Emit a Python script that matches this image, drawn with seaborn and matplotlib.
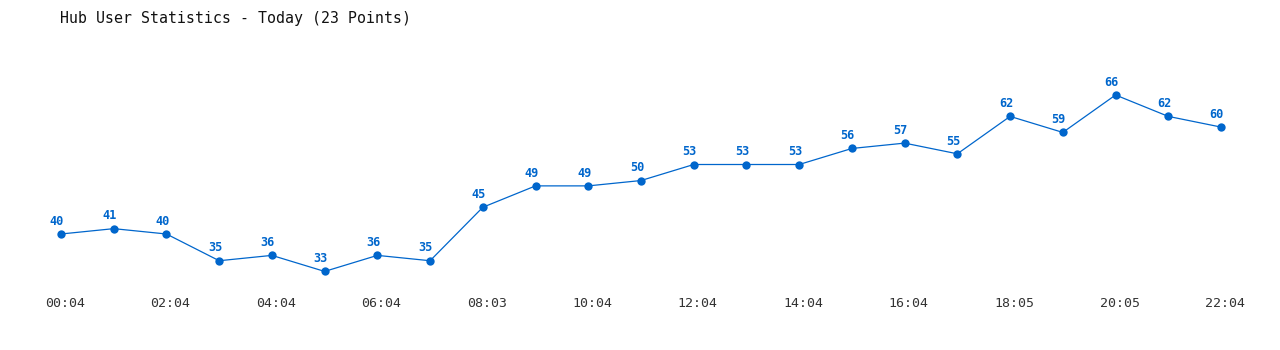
import matplotlib
matplotlib.use("Agg")
import matplotlib.pyplot as plt
import matplotlib.transforms as mtransforms
import seaborn as sns
import pandas as pd
import numpy as np

times = ["00:04", "01:04", "02:04", "03:04", "04:04", "05:04", "06:04", "07:04",
         "08:03", "09:04", "10:04", "11:04", "12:04", "13:04", "14:04", "15:04",
         "16:04", "17:04", "18:05", "19:04", "20:05", "21:04", "22:04"]
users = [40, 41, 40, 35, 36, 33, 36, 35, 45, 49, 49, 50, 53, 53, 53, 56, 57,
         55, 62, 59, 66, 62, 60]
title = "Hub User Statistics - Today (23 Points)"

df = pd.DataFrame({"idx": np.arange(len(users)), "users": users})

sns.set_style("white")
plt.rcParams['font.family'] = ['DejaVu Sans Mono', 'DejaVu Sans']

color = "#0066cc"
fig = plt.figure(figsize=(12.8, 3.5), dpi=100)
W, H = 1280, 350
ax = fig.add_axes([0, 60 / H, 1, 290 / H])

sns.lineplot(data=df, x="idx", y="users", ax=ax, color=color, linewidth=0.9,
             marker="o", markersize=6, markeredgewidth=0, markerfacecolor=color)

for i, v in enumerate(users):
    ax.annotate(str(v), (i, v), xytext=(-3, 4.5), textcoords="offset points",
                ha="center", va="bottom", fontsize=8.6, fontweight="bold",
                color=color)

# pixel mapping: x=0 -> 61px, x=22 -> 1221px ; y=40 -> 234px from top, 66 -> 95px
ppx = (1221 - 61) / 22
ax.set_xlim(-61 / ppx, 22 + (W - 1221) / ppx)
ppy = (234 - 95) / 26
bottom_px = 290
ax.set_ylim(40 - (bottom_px - 234) / ppy, 40 + 234 / ppy)

ax.set_xticks(df["idx"][::2])
ax.set_xticklabels(times[::2], fontsize=9.5, color="#333333")
ax.tick_params(axis="x", length=0, pad=5)
shift = mtransforms.ScaledTranslation(4 / 100, 0, fig.dpi_scale_trans)
for lab in ax.get_xticklabels():
    lab.set_transform(lab.get_transform() + shift)
ax.set_yticks([])
ax.set_xlabel("")
ax.set_ylabel("")
for s in ax.spines.values():
    s.set_visible(False)
ax.grid(False)

fig.text(60 / W, 1 - 18 / H, title, ha="left", va="center", fontsize=10.7,
         color="#111111")

fig.savefig("out.png", dpi=100, facecolor="white")
